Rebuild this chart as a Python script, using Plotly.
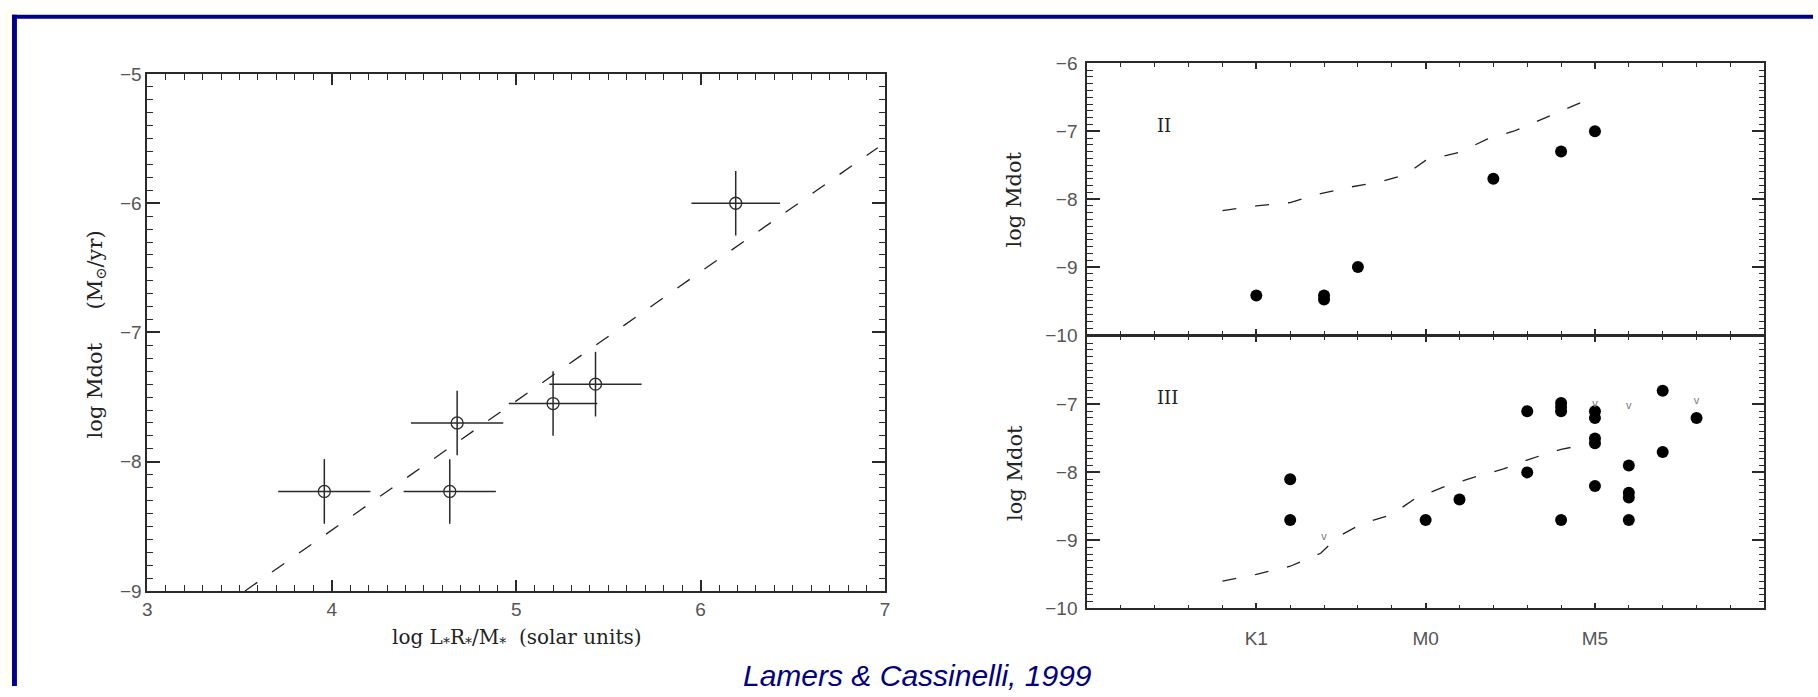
import plotly.graph_objects as go

W, H = 1818, 697

# ---------------- data ----------------
# Left panel: log Mdot vs log L*R*/M*
left_x = [3.96, 4.64, 4.68, 5.20, 5.43, 6.19]
left_y = [-8.23, -8.23, -7.70, -7.55, -7.40, -6.00]
left_xerr = [0.25, 0.25, 0.25, 0.24, 0.25, 0.24]
left_yerr = [0.25, 0.25, 0.25, 0.25, 0.25, 0.25]
fit_x = [3.53, 6.96]
fit_y = [-9.00, -5.57]

# Right panels: spectral subclass index (K1=5, M0=10, M5=15)
spec_tickvals = [5, 10, 15]
spec_ticktext = ["K1", "M0", "M5"]

# Luminosity class II
ii_x = [5, 7, 7, 8, 12, 14, 15]
ii_y = [-9.42, -9.42, -9.48, -9.00, -7.70, -7.30, -7.00]
ii_line_x = [4.0, 5.0, 6.0, 6.9, 7.8, 8.7, 9.4, 10.0, 11.0, 11.8, 12.6, 13.5, 14.25, 15.05]
ii_line_y = [-8.17, -8.10, -8.05, -7.92, -7.82, -7.74, -7.64, -7.43, -7.31, -7.12, -7.00, -6.81, -6.64, -6.48]

# Luminosity class III
iii_x = [6, 6, 10, 11, 13, 13, 14, 14, 14, 14, 15, 15, 15, 15, 15, 16, 16, 16, 16, 17, 17, 18]
iii_y = [-8.10, -8.70, -8.70, -8.40, -7.10, -8.00, -6.98, -7.04, -7.10, -8.70,
         -7.10, -7.20, -7.50, -7.57, -8.20, -7.90, -8.30, -8.37, -8.70, -6.80, -7.70, -7.20]
iii_line_x = [4.0, 5.0, 6.0, 6.9, 7.4, 8.1, 9.0, 9.7, 10.5, 11.3, 12.3, 13.1, 14.0, 14.75]
iii_line_y = [-9.60, -9.50, -9.38, -9.19, -8.95, -8.76, -8.62, -8.38, -8.22, -8.09, -7.95, -7.80, -7.66, -7.59]
lim_x = [7, 15, 16, 18]
lim_y = [-8.95, -7.00, -7.03, -6.96]

# ---------------- helpers ----------------
def px(x):
    return x / W

def py(y):
    return 1 - y / H

AX = "#2a2a2a"
TICKFONT = dict(family="Liberation Sans", size=19, color="#555555")
SERIF = "DejaVu Serif"

fig = go.Figure()

# Left panel
fig.add_trace(go.Scatter(
    x=left_x, y=left_y, mode="markers",
    marker=dict(symbol="circle-open", size=12, color=AX, line=dict(width=1.3, color=AX)),
    error_x=dict(type="data", array=left_xerr, thickness=1.5, width=0, color=AX),
    error_y=dict(type="data", array=left_yerr, thickness=1.5, width=0, color=AX),
    xaxis="x", yaxis="y", showlegend=False))
fig.add_trace(go.Scatter(
    x=fit_x, y=fit_y, mode="lines",
    line=dict(color="#222222", width=1.3, dash="15px,18px"),
    xaxis="x", yaxis="y", showlegend=False))

# Upper right panel (II)
fig.add_trace(go.Scatter(
    x=ii_line_x, y=ii_line_y, mode="lines",
    line=dict(color="#222222", width=1.3, dash="14px,19px"),
    xaxis="x2", yaxis="y2", showlegend=False))
fig.add_trace(go.Scatter(
    x=ii_x, y=ii_y, mode="markers",
    marker=dict(symbol="circle", size=12, color="black"),
    xaxis="x2", yaxis="y2", showlegend=False))

# Lower right panel (III)
fig.add_trace(go.Scatter(
    x=iii_line_x, y=iii_line_y, mode="lines",
    line=dict(color="#222222", width=1.3, dash="14px,19px"),
    xaxis="x3", yaxis="y3", showlegend=False))
fig.add_trace(go.Scatter(
    x=iii_x, y=iii_y, mode="markers",
    marker=dict(symbol="circle", size=12, color="black"),
    xaxis="x3", yaxis="y3", showlegend=False))
fig.add_trace(go.Scatter(
    x=lim_x, y=lim_y, mode="text", text=["v"] * len(lim_x),
    textfont=dict(family="Liberation Sans", size=11, color="#777777"),
    xaxis="x3", yaxis="y3", showlegend=False))

common = dict(showline=True, linecolor=AX, linewidth=1.5, mirror="ticks",
              ticks="inside", tickcolor=AX, tickwidth=1.5, showgrid=False,
              zeroline=False, tickfont=TICKFONT)

def minor(dt, ln):
    return dict(dtick=dt, ticklen=ln, ticks="inside", tickcolor=AX, tickwidth=1.4)

fig.update_layout(
    width=W, height=H,
    margin=dict(l=0, r=0, t=0, b=0),
    paper_bgcolor="white", plot_bgcolor="white",
    showlegend=False,
    xaxis=dict(domain=[px(143), px(885)], range=[3, 7], anchor="y",
               tickvals=[3, 4, 5, 6, 7], ticklen=11,
               minor=minor(0.1, 6), **common),
    yaxis=dict(domain=[py(599), py(66)], range=[-9, -5], anchor="x",
               tickvals=[-9, -8, -7, -6, -5], ticklen=13,
               minor=minor(0.1, 6), **common),
    xaxis2=dict(domain=[px(1088), px(1769)], range=[0, 20], anchor="y2",
                tickvals=spec_tickvals, ticktext=spec_ticktext, showticklabels=False, ticklen=6,
                minor=minor(1, 4), **common),
    yaxis2=dict(domain=[py(335), py(55)], range=[-10, -6], anchor="x2",
                tickvals=[-10, -9, -8, -7, -6], ticklen=13, ticklabelstandoff=4,
                minor=minor(0.1, 6), **common),
    xaxis3=dict(domain=[px(1088), px(1769)], range=[0, 20], anchor="y3",
                tickvals=spec_tickvals, ticktext=spec_ticktext, ticklen=6, ticklabelstandoff=12,
                minor=minor(1, 4), **common),
    yaxis3=dict(domain=[py(617), py(336.5)], range=[-10, -6], anchor="x3",
                tickvals=[-10, -9, -8, -7], ticklen=13, ticklabelstandoff=4,
                minor=minor(0.1, 6), **common),
)

NB = "\u00a0"
annotations = [
    dict(text="log Mdot" + NB * 5 + "(M<sub>⊙</sub>/yr)", x=px(91), y=py(334), xref="paper", yref="paper",
         textangle=-90, showarrow=False, font=dict(family=SERIF, size=21, color="#222222"),
         xanchor="center", yanchor="middle"),
    dict(text="log L<sub>*</sub>R<sub>*</sub>/M<sub>*</sub>" + NB * 2 + "(solar units)",
         x=px(515), y=py(647), xref="paper", yref="paper", showarrow=False,
         font=dict(family=SERIF, size=20, color="#222222"), xanchor="center", yanchor="middle"),
    dict(text="log Mdot", x=px(1015), y=py(195), xref="paper", yref="paper", textangle=-90,
         showarrow=False, font=dict(family=SERIF, size=21, color="#222222"),
         xanchor="center", yanchor="middle"),
    dict(text="log Mdot", x=px(1015), y=py(477), xref="paper", yref="paper", textangle=-90,
         showarrow=False, font=dict(family=SERIF, size=21, color="#222222"),
         xanchor="center", yanchor="middle"),
    dict(text="II", x=2.0, y=-6.91, xref="x2", yref="y2", showarrow=False,
         font=dict(family=SERIF, size=18, color="#222222"), xanchor="left", yanchor="middle"),
    dict(text="III", x=2.0, y=-6.90, xref="x3", yref="y3", showarrow=False,
         font=dict(family=SERIF, size=18, color="#222222"), xanchor="left", yanchor="middle"),
    dict(text="<i>Lamers &amp; Cassinelli, 1999</i>", x=px(918), y=py(686), xref="paper", yref="paper",
         showarrow=False, font=dict(family="Liberation Sans", size=30, color="#000080"),
         xanchor="center", yanchor="middle"),
]
fig.update_layout(annotations=annotations)

# slide frame: light yellow outer margin and navy border on top and left
shapes = [
    dict(type="rect", xref="paper", yref="paper", x0=0, x1=1, y0=py(5), y1=1,
         fillcolor="#FFFFEE", line=dict(width=0), layer="above"),
    dict(type="rect", xref="paper", yref="paper", x0=0, x1=px(7), y0=0, y1=1,
         fillcolor="#FFFFEE", line=dict(width=0), layer="above"),
    dict(type="rect", xref="paper", yref="paper", x0=px(7), x1=1, y0=py(9), y1=py(5),
         fillcolor="#00008B", line=dict(width=0), layer="above"),
    dict(type="rect", xref="paper", yref="paper", x0=px(7), x1=px(12), y0=0, y1=py(5),
         fillcolor="#00008B", line=dict(width=0), layer="above"),
]
fig.update_layout(shapes=shapes)

fig.write_html("out.html")
